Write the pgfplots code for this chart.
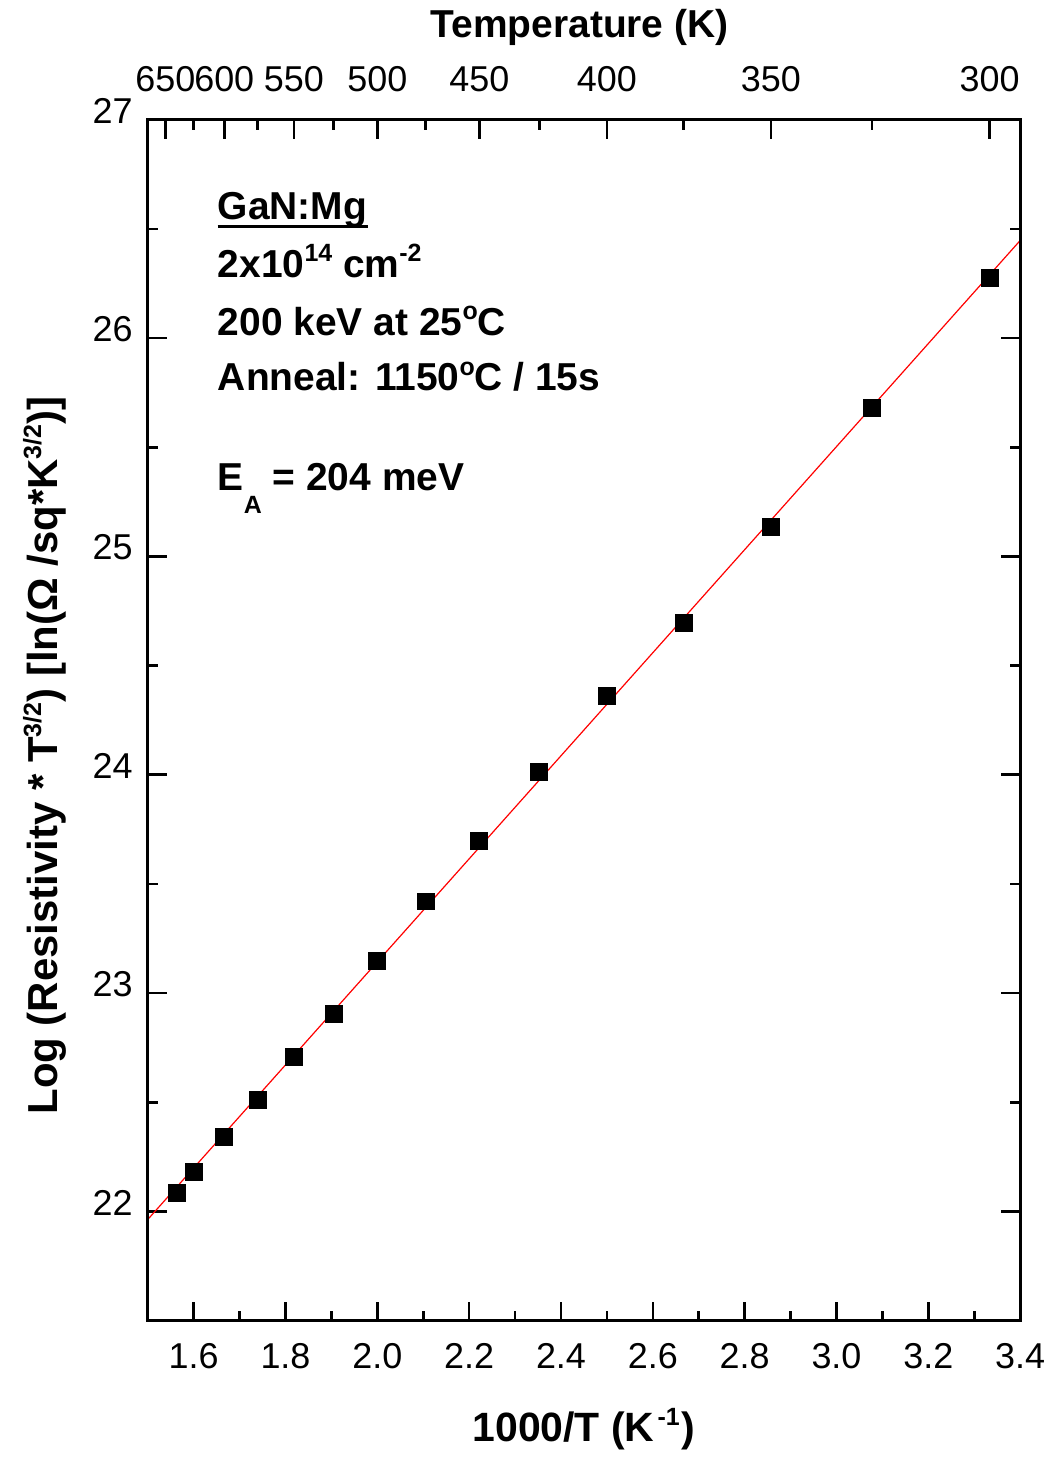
\documentclass[border=0pt]{standalone}
\usepackage{fontspec}
\setmainfont{Liberation Sans}
\usepackage{pgfplots}
\pgfplotsset{compat=1.18}

\newcommand\sups[1]{\raisebox{0.75ex}{\fontsize{12.5}{13}\selectfont #1}}

\pgfplotstableread{
x y
1.5625 22.087
1.6000 22.183
1.6667 22.342
1.7391 22.511
1.8182 22.708
1.9048 22.904
2.0000 23.146
2.1053 23.420
2.2222 23.699
2.3529 24.014
2.5000 24.361
2.6667 24.694
2.8571 25.137
3.0769 25.680
3.3333 26.274
}\datatable

\begin{document}
\begin{tikzpicture}
\begin{axis}[
  width=437pt, height=601.5pt, scale only axis,
  xmin=1.5, xmax=3.4, ymin=21.5, ymax=27,
  xtick={1.6,1.8,2.0,2.2,2.4,2.6,2.8,3.0,3.2,3.4},
  xticklabels={1.6,1.8,2.0,2.2,2.4,2.6,2.8,3.0,3.2,3.4},
  minor x tick num=1,
  xtick pos=left,
  ytick={22,23,24,25,26,27},
  yticklabels={22,23,24,25,26,27},
  minor y tick num=1,
  ytick pos=both,
  yticklabel pos=left,
  tick align=inside,
  major tick length=9.5pt, minor tick length=5pt,
  every tick/.style={black, line width=1.3pt},
  axis line style={line width=1.5pt},
  tick label style={font=\fontsize{18}{20}\selectfont},
  xticklabel style={yshift=-8pt},
  yticklabel style={xshift=-4pt, yshift=4.5pt},
  xlabel={1000/T (K\kern1.5pt\sups{-1}\kern1pt)},
  ylabel={Log (Resistivity * T\sups{3/2}) [ln(Ω /sq*K\sups{3/2})]},
  every axis x label/.style={at={(axis description cs:0.5,-0.0906)},anchor=center,font=\fontsize{20.5}{22}\selectfont\bfseries},
  every axis y label/.style={at={(axis description cs:-0.118,0.4705)},rotate=90,anchor=center,font=\fontsize{21}{22}\selectfont\bfseries},
]
\addplot[red, line width=0.6pt] coordinates {(1.5,21.963) (3.4,26.447)};
\addplot[only marks, mark=square*, mark size=4.25pt, black] table[x=x,y=y] {\datatable};

\coordinate (bl) at (rel axis cs:0,0);
\node[anchor=base west, inner sep=0pt, font=\fontsize{19.5}{22}\selectfont\bfseries] (g) at (axis cs:1.652,26.543) {GaN:Mg};
\draw[line width=1.5pt] ([yshift=-3.6pt]g.base west) -- ([yshift=-3.6pt]g.base east);
\node[anchor=base west, inner sep=0pt, font=\fontsize{19.5}{22}\selectfont\bfseries] at (axis cs:1.652,26.279) {2x10\sups{14} cm\sups{-2}};
\node[anchor=base west, inner sep=0pt, font=\fontsize{19.5}{22}\selectfont\bfseries] at (axis cs:1.652,26.014) {200 keV at 25\sups{o}C};
\node[anchor=base west, inner sep=0pt, font=\fontsize{19.5}{22}\selectfont\bfseries] at (axis cs:1.652,25.758) {Anneal: 1150\sups{o}C / 15s};
\node[anchor=base west, inner sep=0pt, font=\fontsize{19.5}{22}\selectfont\bfseries] at (axis cs:1.652,25.301) {E\raisebox{-1.1ex}{\fontsize{12.5}{13}\selectfont A} = 204 meV};
\end{axis}

\begin{axis}[
  width=437pt, height=601.5pt, scale only axis,
  xmin=1.5, xmax=3.4, ymin=21.5, ymax=27,
  xtick pos=right, xticklabel pos=right,
  ytick=\empty,
  xtick={1.538462,1.666667,1.818182,2,2.222222,2.5,2.857143,3.333333},
  xticklabels={650,600,550,500,450,400,350,300},
  minor xtick={1.6,1.739130,1.904762,2.105263,2.352941,2.666667,3.076923},
  tick align=inside,
  major tick length=9.5pt, minor tick length=5pt,
  every tick/.style={black, line width=1.3pt},
  axis line style={line width=1.5pt},
  tick label style={font=\fontsize{18}{20}\selectfont},
  xticklabel style={yshift=10.5pt},
  xlabel={Temperature (K)},
  every axis x label/.style={at={(axis description cs:0.495,1.0773)},anchor=center,font=\fontsize{19.5}{22}\selectfont\bfseries},
]
\end{axis}
\path (bl) ++(-74pt,-67pt) rectangle ++(527.5pt,728.5pt);
\end{tikzpicture}
\end{document}
